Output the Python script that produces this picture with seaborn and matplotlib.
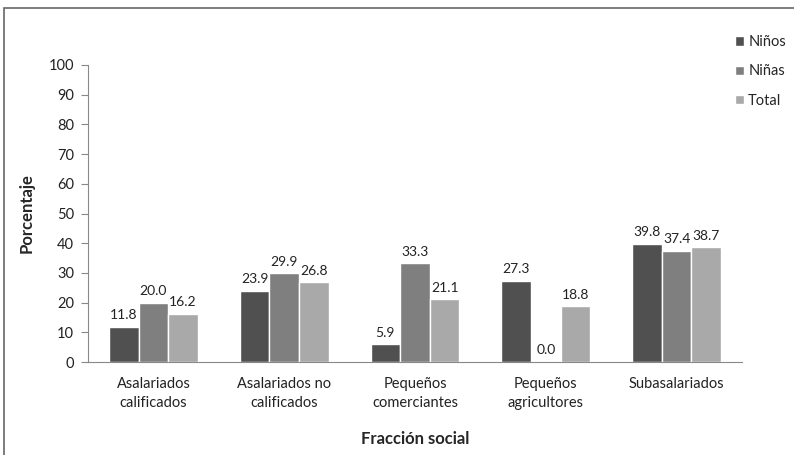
import matplotlib
matplotlib.use("Agg")
import matplotlib.pyplot as plt
import seaborn as sns
import pandas as pd
from matplotlib.patches import Rectangle

categories = ["Asalariados\ncalificados", "Asalariados no\ncalificados", "Pequeños\ncomerciantes",
              "Pequeños\nagricultores", "Subasalariados"]
series = ["Niños", "Niñas", "Total"]
ninos = [11.8, 23.9, 5.9, 27.3, 39.8]
ninas = [20.0, 29.9, 33.3, 0.0, 37.4]
total = [16.2, 26.8, 21.1, 18.8, 38.7]
yticks = list(range(0, 101, 10))
colors = ["#505050", "#7f7f80", "#a9a9aa"]

rows = []
for s, vals in zip(series, [ninos, ninas, total]):
    for c, v in zip(categories, vals):
        rows.append({"cat": c, "serie": s, "val": v})
df = pd.DataFrame(rows)

sns.set_style("white")
plt.rcParams["font.family"] = ["Lato", "DejaVu Sans"]

fig = plt.figure(figsize=(7.94, 4.55), dpi=100)
ax = fig.add_axes([88/794, 1-362/455, (742-88)/794, (362-65)/455])
sns.barplot(data=df, x="cat", y="val", hue="serie", palette=colors, ax=ax,
            width=0.68, saturation=1, gap=0)

for cont in ax.containers:
    ax.bar_label(cont, fmt="%.1f", padding=4, fontsize=10, color="#222222")

ax.set_ylim(0, 100)
ax.set_xlim(-0.5, len(categories) - 0.5)
ax.set_yticks(yticks)
ax.set_yticklabels([str(t) for t in yticks], fontsize=10.5, color="#222222")
ax.tick_params(axis="x", which="major", length=0, labelsize=10.5, labelcolor="#222222", pad=11)
for t in ax.get_xticklabels():
    t.set_linespacing(1.45)
ax.set_xticks([i - 0.5 for i in range(len(categories) + 1)], minor=True)
ax.tick_params(axis="x", which="minor", length=5, color="#888888", width=0.8)
ax.tick_params(axis="y", length=5, color="#888888", width=0.8, left=True, pad=5)
for sp in ["top", "right"]:
    ax.spines[sp].set_visible(False)
for sp in ["left", "bottom"]:
    ax.spines[sp].set_color("#888888")
    ax.spines[sp].set_linewidth(0.8)

ax.set_xlabel("Fracción social", fontsize=12, fontweight="bold", labelpad=15)
ax.set_ylabel("Porcentaje", fontsize=12, fontweight="bold", labelpad=10)

leg = ax.legend(loc="upper left", bbox_to_anchor=(722/794, 1-22/455), bbox_transform=fig.transFigure,
                frameon=False, fontsize=10.5, handlelength=0.6, handleheight=0.6,
                handletextpad=0.3, labelspacing=1.05, title=None)

fig.patches.append(Rectangle((4/794, -0.1), 1.2, 1 - 8/455 + 0.1, transform=fig.transFigure,
                             fill=False, edgecolor="#666666", linewidth=1.2))

fig.savefig("out.png", dpi=100)
